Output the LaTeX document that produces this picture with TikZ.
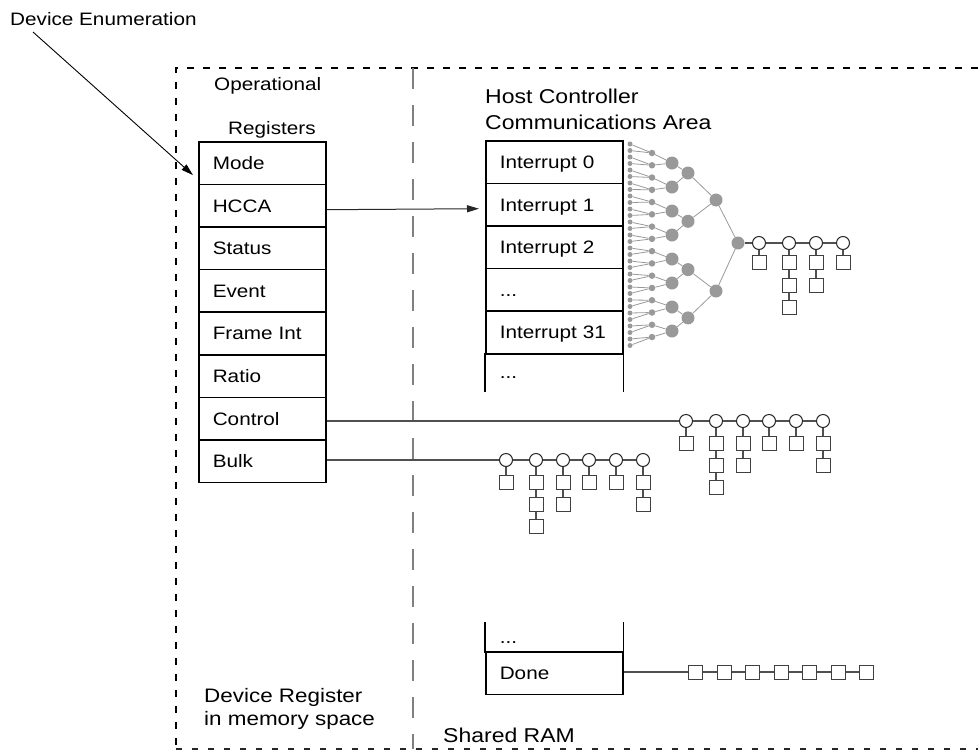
\documentclass[tikz,border=0pt]{standalone}
\usepackage{fontspec}
\setmainfont{Liberation Sans}[FakeStretch=1.15]
\usetikzlibrary{arrows.meta}
\newcommand\fmain{\fontsize{18}{21}\selectfont}
\newcommand\fhost{\fontsize{20}{24}\selectfont}
\newcommand\fbig{\fontsize{19.5}{23}\selectfont}
\definecolor{treegray}{HTML}{999999}
\definecolor{linegray}{HTML}{505050}
\definecolor{divgray}{HTML}{808080}
\begin{document}
\begin{tikzpicture}[x=1pt,y=-1pt,
  lbl/.style={anchor=base west, inner sep=0pt, font=\fmain},
  regrow/.style={draw, line width=1.6pt, anchor=north west, minimum width=127pt,
    minimum height=42.6pt, inner xsep=14pt, inner ysep=0pt, text width=99pt,
    align=left, text height=12.9pt, text depth=0pt, font=\fmain},
  introw/.style={regrow, minimum width=137pt, text width=109pt},
  conn/.style={draw=linegray, line width=1.1pt},
  tedge/.style={draw=treegray, line width=0.8pt},
  leaf/.style={circle, fill=treegray, inner sep=0pt, minimum size=5pt},
  gsmall/.style={circle, fill=treegray, inner sep=0pt, minimum size=6.5pt},
  gdot/.style={circle, fill=treegray, inner sep=0pt, minimum size=13pt},
  hcirc/.style={circle, draw=black!85, fill=white, line width=1pt, inner sep=0pt, minimum size=13pt},
  sqr/.style={rectangle, draw=black!75, fill=white, line width=1pt, inner sep=0pt, minimum size=14pt},
  tip/.style={-{Triangle[length=12pt,width=7pt]}}
]
\path[use as bounding box] (0,0) rectangle (978,753);

% outer dashed frame
\draw[line width=2.6pt, dash pattern=on 7pt off 9pt] (978,68) -- (176,68) -- (176,749);
\draw[line width=1.6pt, black!85, dash pattern=on 6pt off 10pt] (176,749) -- (978,749);
% divider
\draw[divgray, line width=1.2pt, dash pattern=on 21pt off 16pt] (413,68) -- (413,749);

% labels
\node[lbl] (devenum) at (10,25) {Device Enumeration};
\coordinate (destart) at (33,32);
\node[lbl] (oper) at (214,90) {Operational};
\node[lbl] (regs) at (228,134) {Registers};
\node[lbl, font=\fhost] (host1) at (485,103) {Host Controller};
\node[lbl, font=\fhost] (host2) at (485,129) {Communications Area};
\node[lbl, font=\fbig] (dr1) at (204,702) {Device Register};
\node[lbl, font=\fbig] (dr2) at (204,725) {in memory space};
\node[lbl, font=\fhost] (shram) at (443,742) {Shared RAM};

% operational registers
\node[regrow] (mode)  at (198,141)   {Mode};
\node[regrow] (hcca)  at (198,183.6) {HCCA};
\node[regrow] (stat)  at (198,226.2) {Status};
\node[regrow] (event) at (198,268.8) {Event};
\node[regrow] (fint)  at (198,311.4) {Frame Int};
\node[regrow] (ratio) at (198,354)   {Ratio};
\node[regrow] (ctrl)  at (198,396.6) {Control};
\node[regrow] (bulk)  at (198,439.2) {Bulk};

% HCCA
\node[introw] (ir0) at (485,140)   {Interrupt 0};
\node[introw] (ir1) at (485,182.6) {Interrupt 1};
\node[introw] (ir2) at (485,225.2) {Interrupt 2};
\node[introw] (ir3) at (485,267.8) {...};
\node[introw] (ir4) at (485,310.4) {Interrupt 31};
\node[introw, draw=none, minimum height=37pt] (ir5) at (485,353) {...};
\draw[line width=1.6pt] (ir5.south west) -- (ir5.north west) (ir5.north east) -- (ir5.south east);

\node[introw, draw=none, minimum height=29pt] (dn0) at (485,622) {...};
\draw[line width=1.6pt] (dn0.north west) -- (dn0.south west) (dn0.north east) -- (dn0.south east);
\node[introw] (done) at (485,651) {Done};

% arrows
\draw[black, line width=0.9pt, tip] (destart) -- ([xshift=-5pt,yshift=-12pt]mode.west);
\draw[black!85, line width=1pt, tip] ([yshift=-4pt]hcca.east) -- ([xshift=-6pt,yshift=-4pt]ir1.west);

% interrupt tree
\foreach \k in {0,...,31} \node[leaf] (L\k) at (630,144+6.5*\k) {};
\foreach \i in {0,...,15} \node[gsmall] (A\i) at (652,153+12.27*\i) {};
\foreach \i in {0,...,7} \node[gdot] (B\i) at (672,163+24*\i) {};
\foreach \i in {0,...,3} \node[gdot] (C\i) at (688,173+48.3*\i) {};
\node[gdot] (D0) at (716,200) {};
\node[gdot] (D1) at (716,291) {};
\node[gdot] (E0) at (738,243) {};
\foreach \k in {0,...,31} {\pgfmathtruncatemacro\p{floor(\k/2)} \draw[tedge] (L\k) -- (A\p);}
\foreach \i in {0,...,15} {\pgfmathtruncatemacro\p{floor(\i/2)} \draw[tedge] (A\i) -- (B\p);}
\foreach \i in {0,...,7} {\pgfmathtruncatemacro\p{floor(\i/2)} \draw[tedge] (B\i) -- (C\p);}
\foreach \i in {0,...,3} {\pgfmathtruncatemacro\p{floor(\i/2)} \draw[tedge] (C\i) -- (D\p);}
\draw[tedge] (D0) -- (E0) -- (D1);

% interrupt chain
\foreach \i/\x/\d in {1/759/1,2/789/3,3/816/2,4/843/1} {
  \node[hcirc] (t\i) at (\x,243) {};
  \foreach \j in {1,...,\d} {\node[sqr] (ts\i-\j) at (\x,240+22.5*\j) {};}
  \draw[conn] (t\i) -- (ts\i-1);
  \ifnum\d>1 \foreach \j in {2,...,\d} {\pgfmathtruncatemacro\q{\j-1}\draw[conn] (ts\i-\q) -- (ts\i-\j);}\fi
}
\draw[conn] (E0) -- (t1) -- (t2) -- (t3) -- (t4);

% control chain
\foreach \i/\x/\d in {1/686/1,2/716/3,3/743/2,4/769/1,5/796/1,6/823/2} {
  \node[hcirc] (c\i) at (\x,421) {};
  \foreach \j in {1,...,\d} {\node[sqr] (cs\i-\j) at (\x,421+22*\j) {};}
  \draw[conn] (c\i) -- (cs\i-1);
  \ifnum\d>1 \foreach \j in {2,...,\d} {\pgfmathtruncatemacro\q{\j-1}\draw[conn] (cs\i-\q) -- (cs\i-\j);}\fi
}
\draw[conn] (ctrl.east |- c1) -- (c1) -- (c2) -- (c3) -- (c4) -- (c5) -- (c6);

% bulk chain
\foreach \i/\x/\d in {1/506/1,2/536/3,3/563/2,4/589/1,5/616/1,6/643/2} {
  \node[hcirc] (b\i) at (\x,460) {};
  \foreach \j in {1,...,\d} {\node[sqr] (bs\i-\j) at (\x,460+22*\j) {};}
  \draw[conn] (b\i) -- (bs\i-1);
  \ifnum\d>1 \foreach \j in {2,...,\d} {\pgfmathtruncatemacro\q{\j-1}\draw[conn] (bs\i-\q) -- (bs\i-\j);}\fi
}
\draw[conn] (bulk.east |- b1) -- (b1) -- (b2) -- (b3) -- (b4) -- (b5) -- (b6);

% done chain
\foreach \i in {1,...,7} \node[sqr] (d\i) at (695.5+28.5*\i-28.5,672) {};
\draw[conn] (done.east |- d1) -- (d1) -- (d2) -- (d3) -- (d4) -- (d5) -- (d6) -- (d7);
\end{tikzpicture}
\end{document}
